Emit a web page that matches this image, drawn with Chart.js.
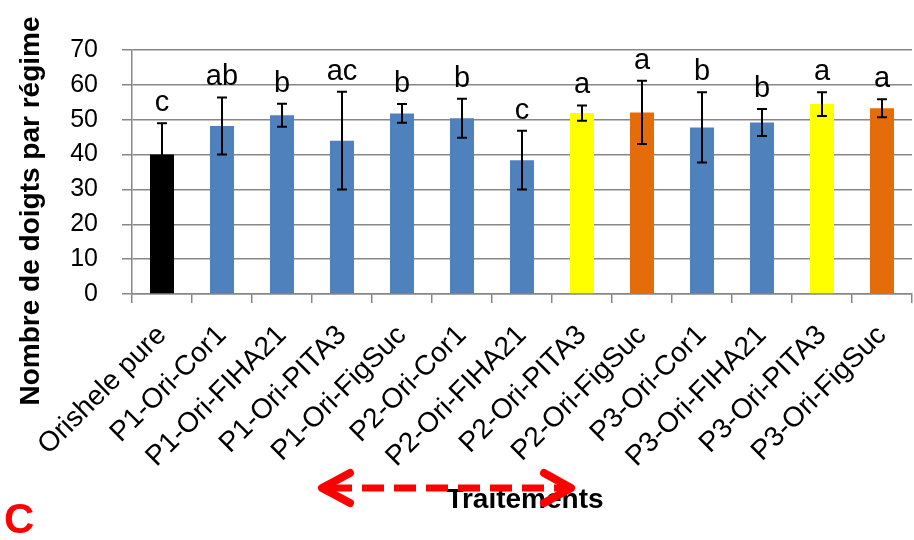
<!DOCTYPE html>
<html>
<head>
<meta charset="utf-8">
<script src="https://cdn.jsdelivr.net/npm/chart.js@4"></script>
<style>
  html, body { margin: 0; padding: 0; background: #fff; }
  #wrap { width: 914px; height: 540px; position: relative; }
</style>
</head>
<body>
<div id="wrap"><canvas id="chart" width="914" height="540"></canvas></div>
<script>
// données
const traitements = [
    "Orishele pure", "P1-Ori-Cor1", "P1-Ori-FIHA21", "P1-Ori-PITA3", "P1-Ori-FigSuc",
    "P2-Ori-Cor1", "P2-Ori-FIHA21", "P2-Ori-PITA3", "P2-Ori-FigSuc",
    "P3-Ori-Cor1", "P3-Ori-FIHA21", "P3-Ori-PITA3", "P3-Ori-FigSuc"
];
const moyennes = [40.0, 48.2, 51.3, 44.0, 51.8, 50.4, 38.4, 51.9, 52.1, 47.8, 49.2, 54.5, 53.3];
const erreurs  = [9.0, 8.2, 3.3, 14.0, 2.7, 5.6, 8.4, 2.2, 9.1, 10.1, 3.9, 3.4, 2.6];
const lettres  = ["c", "ab", "b", "ac", "b", "b", "c", "a", "a", "b", "b", "a", "a"];
const yTicks   = [0, 10, 20, 30, 40, 50, 60, 70];

// couleurs par groupe (style)
const BLEU = "#4F81BD", NOIR = "#000000", JAUNE = "#FFFF00", ORANGE = "#E46C0A";
const couleurs = [NOIR, BLEU, BLEU, BLEU, BLEU, BLEU, BLEU, JAUNE, ORANGE, BLEU, BLEU, JAUNE, ORANGE];

const GRIS = "#878787";
const FONT = "'Liberation Sans', Arial, sans-serif";

// barres d'erreur + lettres
const errorBars = {
    id: "errorBars",
    afterDatasetsDraw(chart) {
        const { ctx, scales: { x, y } } = chart;
        ctx.save();
        ctx.strokeStyle = "#000";
        ctx.lineWidth = 2;
        ctx.fillStyle = "#000";
        ctx.font = "29px " + FONT;
        ctx.textAlign = "center";
        ctx.textBaseline = "alphabetic";
        moyennes.forEach((m, i) => {
            const px = x.getPixelForValue(i);
            const top = y.getPixelForValue(m + erreurs[i]);
            const bot = y.getPixelForValue(m - erreurs[i]);
            ctx.beginPath();
            ctx.moveTo(px, top); ctx.lineTo(px, bot);
            ctx.moveTo(px - 5, top); ctx.lineTo(px + 5, top);
            ctx.moveTo(px - 5, bot); ctx.lineTo(px + 5, bot);
            ctx.stroke();
            ctx.fillText(lettres[i], px, top - 12);
        });
        ctx.restore();
    }
};

// titres d'axes, flèche rouge et lettre C
const decor = {
    id: "decor",
    afterDraw(chart) {
        const { ctx } = chart;
        ctx.save();
        ctx.fillStyle = "#000";
        ctx.font = "bold 28px " + FONT;
        ctx.textAlign = "center";
        ctx.textBaseline = "middle";
        ctx.save();
        ctx.translate(31, 211);
        ctx.rotate(-Math.PI / 2);
        ctx.fillText("Nombre de doigts par régime", 0, 0);
        ctx.restore();
        ctx.textBaseline = "alphabetic";
        ctx.fillText("Traitements", 525, 508);

        // flèche pointillée
        ctx.strokeStyle = "#ff0000";
        ctx.lineWidth = 7;
        ctx.setLineDash([22, 10]);
        ctx.beginPath();
        ctx.moveTo(330, 488); ctx.lineTo(566, 488);
        ctx.stroke();
        ctx.setLineDash([]);
        ctx.lineCap = "round";
        ctx.lineJoin = "round";
        ctx.lineWidth = 8;
        ctx.beginPath();
        ctx.moveTo(350, 473); ctx.lineTo(322, 488); ctx.lineTo(350, 503);
        ctx.moveTo(544, 473); ctx.lineTo(571, 488); ctx.lineTo(544, 503);
        ctx.stroke();

        ctx.fillStyle = "#ff0000";
        ctx.font = "bold 42px " + FONT;
        ctx.textAlign = "left";
        ctx.fillText("C", 4, 533);
        ctx.restore();
    }
};

new Chart(document.getElementById("chart"), {
    type: "bar",
    data: {
        labels: traitements,
        datasets: [{
            data: moyennes,
            backgroundColor: couleurs,
            borderWidth: 0,
            barPercentage: 0.4,
            categoryPercentage: 1.0
        }]
    },
    options: {
        responsive: false,
        animation: false,
        layout: { padding: { left: 0, right: 2, top: 50, bottom: 0 }, autoPadding: false },
        plugins: { legend: { display: false }, tooltip: { enabled: false } },
        scales: {
            x: {
                grid: { offset: true, drawOnChartArea: false, color: GRIS, lineWidth: 1.5, tickLength: 9 },
                border: { color: GRIS, width: 1.5 },
                ticks: {
                    color: "#000",
                    font: { family: FONT, size: 28 },
                    minRotation: 45, maxRotation: 45,
                    padding: 16,
                    autoSkip: false
                },
                afterFit(scale) {
                    scale.height = 246;
                    scale.paddingLeft = 0;
                    scale.paddingRight = 0;
                }
            },
            y: {
                min: 0, max: 70,
                afterBuildTicks(scale) { scale.ticks = yTicks.map(v => ({ value: v })); },
                grid: { color: GRIS, lineWidth: 1.5, tickLength: 10 },
                border: { color: GRIS, width: 1.5 },
                ticks: {
                    color: "#000",
                    font: { family: FONT, size: 25 },
                    padding: 24
                },
                afterFit(scale) { scale.width = 132; }
            }
        }
    },
    plugins: [errorBars, decor]
});
</script>
</body>
</html>
